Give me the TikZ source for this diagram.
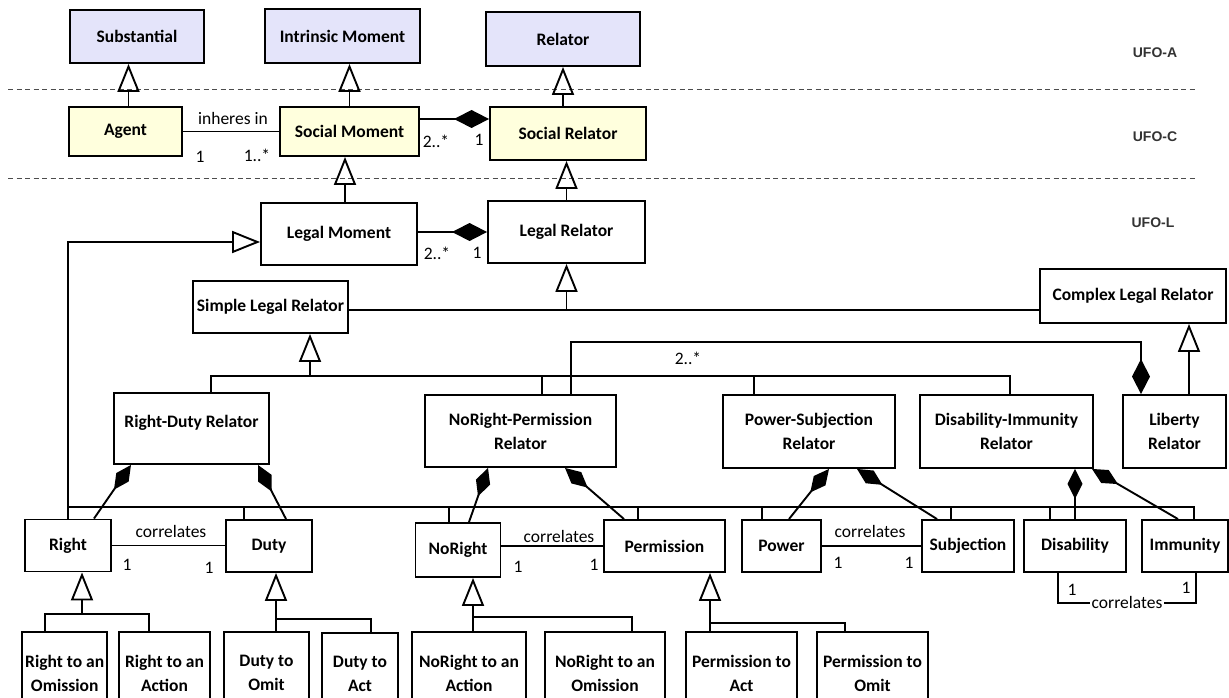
\documentclass[tikz,border=0pt]{standalone}
\usepackage{fontspec}
\setmainfont{Carlito}
\newfontfamily\ufofont{Liberation Sans}
\usetikzlibrary{arrows.meta,calc}
\definecolor{coreblue}{RGB}{228,228,250}
\definecolor{socialyellow}{RGB}{255,255,221}

\begin{document}
\begin{tikzpicture}[x=1pt,y=-1pt,
  cls/.style={draw, line width=1.9pt, fill=white, inner sep=2pt, align=center,
              font=\fontsize{17.5}{24}\selectfont\bfseries},
  core/.style={cls, fill=coreblue},
  social/.style={cls, fill=socialyellow},
  ln/.style={line width=1.9pt},
  gen/.style={ln, -{Triangle[open, length=28pt, width=22pt]}},
  comp/.style={ln, -{Diamond[length=30pt, width=15pt]}},
  bigcomp/.style={ln, -{Diamond[length=35pt, width=18pt]}},
  lbl/.style={font=\fontsize{17.5}{20}\selectfont, inner sep=1pt},
  layer/.style={font=\ufofont\bfseries\fontsize{14}{16}\selectfont, text=black!80},
  sep/.style={line width=1pt, draw=black!70, dash pattern=on 5pt off 3.5pt}
]
\useasboundingbox (0,0) rectangle (1229,698);
\clip (0,0) rectangle (1229,698);

% layer separators and layer names
\draw[sep] (8,90) -- (1197,90);
\draw[sep] (8,178) -- (1197,178);
\node[layer] (ufoa) at (1155,53) {UFO-A};
\node[layer] (ufoc) at (1155,137) {UFO-C};
\node[layer] (ufol) at (1153,223) {UFO-L};

% UFO-A
\node[core, minimum width=134pt, minimum height=53pt] (sub) at (137,36.5) {Substantial};
\node[core, minimum width=155pt, minimum height=54pt] (intr) at (342.5,36) {Intrinsic Moment};
\node[core, minimum width=154pt, minimum height=54pt] (rel) at (563,39) {Relator};

% UFO-C
\node[social, minimum width=113pt, minimum height=49pt] (agent) at (125.5,131.5) {Agent};
\node[social, minimum width=139pt, minimum height=49pt] (sm) at (349.5,131.5) {Social Moment};
\node[social, minimum width=156pt, minimum height=53pt] (sr) at (568,133.5) {Social Relator};

% UFO-L
\node[cls, minimum width=156pt, minimum height=62pt] (lm) at (339,234) {Legal Moment};
\node[cls, minimum width=157pt, minimum height=62pt] (lr) at (566.5,232) {Legal Relator};
\node[cls, minimum width=155pt, minimum height=52pt] (slr) at (270.5,307) {Simple Legal Relator};
\node[cls, minimum width=186pt, minimum height=54pt] (clr) at (1133,296) {Complex Legal Relator};

\node[cls, minimum width=155pt, minimum height=71pt, text depth=14.5pt] (rdr) at (191.5,428.5) {Right-Duty Relator};
\node[cls, minimum width=191pt, minimum height=72pt] (nrp) at (520.5,431) {NoRight-Permission\\Relator};
\node[cls, minimum width=172pt, minimum height=73pt] (psr) at (809,431.5) {Power-Subjection\\Relator};
\node[cls, minimum width=173pt, minimum height=73pt] (dir) at (1006.5,431.5) {Disability-Immunity\\Relator};
\node[cls, minimum width=103pt, minimum height=73pt] (lib) at (1174.5,431.5) {Liberty\\Relator};

\node[cls, minimum width=86pt, minimum height=52pt] (right) at (68,545.5) {Right};
\node[cls, minimum width=86pt, minimum height=52pt] (duty) at (269,546) {Duty};
\node[cls, minimum width=85pt, minimum height=54pt] (noright) at (458,550) {NoRight};
\node[cls, minimum width=121pt, minimum height=52pt] (perm) at (664.5,546) {Permission};
\node[cls, minimum width=79pt, minimum height=52pt] (power) at (781.5,546) {Power};
\node[cls, minimum width=92pt, minimum height=52pt] (subj) at (968,546) {Subjection};
\node[cls, minimum width=102pt, minimum height=52pt] (disab) at (1075,546) {Disability};
\node[cls, minimum width=86pt, minimum height=52pt] (immun) at (1185,546) {Immunity};

\node[cls, minimum width=85pt, minimum height=82pt] (rtao) at (64.7,673) {Right to an\\Omission};
\node[cls, minimum width=91pt, minimum height=82pt] (rtaa) at (164.5,673) {Right to an\\Action};
\node[cls, minimum width=85pt, minimum height=82pt] (dto) at (266.5,673) {Duty to\\Omit};
\node[cls, minimum width=76pt, minimum height=82pt] (dta) at (360,674) {Duty to\\Act};
\node[cls, minimum width=114pt, minimum height=82pt] (ntaa) at (469,673) {NoRight to an\\Action};
\node[cls, minimum width=120pt, minimum height=82pt] (ntao) at (605,673) {NoRight to an\\Omission};
\node[cls, minimum width=111pt, minimum height=82pt] (pta) at (741.5,673) {Permission to\\Act};
\node[cls, minimum width=111pt, minimum height=82pt] (pto) at (872.5,673) {Permission to\\Omit};

% generalizations across the layers
\coordinate (ag) at ($(agent.north)+(3,0)$);
\draw[gen] (ag) -- (ag |- sub.south);
\draw[gen] (sm.north) -- (sm.north |- intr.south);
\draw[gen] (rel.south |- sr.north) -- (rel.south);
\coordinate (lmtop) at ($(lm.north)+(6,0)$);
\draw[gen] (lmtop) -- (lmtop |- sm.south);
\draw[gen] (lr.north) -- (lr.north |- sr.south);

% associations of the social layer
\draw[ln] (agent.east) -- (sm.west);
\node[lbl] (inh) at (233,118) {inheres in};
\node[lbl] (m1) at (200,157) {1};
\node[lbl] (m2) at (257,155) {1..*};
\coordinate (smsr) at ($(sr.west)+(0,-14.5)$);
\draw[bigcomp] (smsr -| sm.east) -- (smsr);
\node[lbl] (m3) at (436,141) {2..*};
\node[lbl] (m4) at (479,140) {1};
\draw[bigcomp] (lr.west -| lm.east) -- (lr.west);
\node[lbl] (m5) at (437,253) {2..*};
\node[lbl] (m6) at (477,253) {1};

% simple / complex legal relator
\coordinate (slre) at ($(slr.east)+(0,3)$);
\draw[ln] (slre) -- (slre -| clr.west);
\draw[gen] (lr.south |- slre) -- (lr.south);
\coordinate (sj) at ($(slr.south)+(39.5,42)$);
\draw[gen] (sj) -- (sj |- slr.south);
\coordinate (d1) at ($(rdr.north)+(19.5,0)$);
\coordinate (d2) at ($(nrp.north)+(21.5,0)$);
\coordinate (d3) at ($(psr.north)+(-55,0)$);
\coordinate (d4) at ($(dir.north)+(3.5,0)$);
\draw[ln] (d1) -- (d1 |- sj) -- (d4 |- sj) -- (d4);
\draw[ln] (d2) -- (d2 |- sj);
\draw[ln] (d3) -- (d3 |- sj);

% liberty relator
\coordinate (libg) at ($(lib.north)+(14.5,0)$);
\draw[gen] (libg) -- (libg |- clr.south);
\coordinate (nrpl) at ($(nrp.north)+(50.5,0)$);
\coordinate (libc) at ($(lib.north)+(-33.5,0)$);
\coordinate (ytop) at (0,342);
\draw[bigcomp] (nrpl) -- (nrpl |- ytop) -| (libc);
\node[lbl] (m7) at (688,358) {2..*};

% legal moments specialise Legal Moment
\coordinate (lmin) at ($(lm.west)+(0,8)$);
\draw[gen] (right.north) -- (right.north |- lmin) -- (lmin);
\coordinate (busy) at (0,507);
\coordinate (imd) at ($(immun.north)+(9,0)$);
\draw[ln] (right.north |- busy) -- (imd |- busy) -- (imd);
\coordinate (ddu) at ($(duty.north)+(-25,0)$);
\coordinate (dnr) at ($(noright.north)+(-9,0)$);
\coordinate (dpe) at ($(perm.north)+(-26.5,0)$);
\coordinate (dpo) at ($(power.north)+(-19.5,0)$);
\coordinate (dsu) at ($(subj.north)+(-17,0)$);
\coordinate (ddi) at ($(disab.north)+(-25,0)$);
\foreach \d in {ddu,dnr,dpe,dpo,dsu,ddi} \draw[ln] (\d) -- (\d |- busy);

% parts of the simple legal relators
\draw[comp] ($(right.north)+(26,0)$) -- ($(rdr.south)+(-60.5,0)$);
\draw[comp] ($(duty.north)+(17,0)$) -- ($(rdr.south)+(66.5,0)$);
\draw[comp] ($(noright.north)+(11,0)$) -- ($(nrp.south)+(-32.5,0)$);
\draw[comp] ($(perm.north)+(-40.5,0)$) -- ($(nrp.south)+(44.5,0)$);
\draw[comp] ($(power.north)+(7.5,0)$) -- ($(psr.south)+(20,0)$);
\draw[comp] ($(subj.north)+(-31,0)$) -- ($(psr.south)+(48,0)$);
\draw[comp] (disab.north) -- (disab.north |- dir.south);
\draw[comp] ($(immun.north)+(-7,0)$) -- ($(dir.south)+(85.5,0)$);

% correlations
\draw[ln] (right.east) -- (right.east -| duty.west);
\node[lbl] (c1) at (171,531) {correlates};
\node[lbl] (c1a) at (127,565) {1};
\node[lbl] (c1b) at (209,568) {1};
\draw[ln] (noright.east |- perm.west) -- (perm.west);
\node[lbl] (c2) at (559,536) {correlates};
\node[lbl] (c2a) at (518,567) {1};
\node[lbl] (c2b) at (594,565) {1};
\draw[ln] (power.east) -- (subj.west);
\node[lbl] (c3) at (870,531) {correlates};
\node[lbl] (c3a) at (838,563) {1};
\node[lbl] (c3b) at (909,563) {1};
\coordinate (dil) at ($(disab.south)+(-17,0)$);
\coordinate (dir2) at ($(immun.south)+(11,0)$);
\coordinate (diy) at (0,603);
\draw[ln] (dil) -- (dil |- diy) -- (dir2 |- diy) -- (dir2);
\node[lbl, fill=white, inner xsep=2pt] (c4) at (1127,602) {correlates};
\node[lbl] (c4a) at (1072,590) {1};
\node[lbl] (c4b) at (1186,588) {1};

% subtypes of the legal moments
\coordinate (j1) at ($(right.south)+(14,41.5)$);
\draw[ln] ($(rtao.north)+(-19.7,0)$) |- (j1) -| ($(rtaa.north)+(-15.5,0)$);
\draw[gen] (j1) -- (j1 |- right.south);
\coordinate (j2) at ($(duty.south)+(7,46)$);
\draw[ln] (j2 |- dto.north) -- (j2) -| ($(dta.north)+(11,0)$);
\draw[gen] (j2) -- (j2 |- duty.south);
\coordinate (j3) at ($(noright.south)+(15,39)$);
\draw[ln] (j3 |- ntaa.north) -- (j3) -| ($(ntao.north)+(27,0)$);
\draw[gen] (j3) -- (j3 |- noright.south);
\coordinate (j4) at ($(perm.south)+(45.5,50)$);
\draw[ln] (j4 |- pta.north) -- (j4) -| ($(pto.north)+(-27.5,0)$);
\draw[gen] (j4) -- (j4 |- perm.south);
\end{tikzpicture}
\end{document}
